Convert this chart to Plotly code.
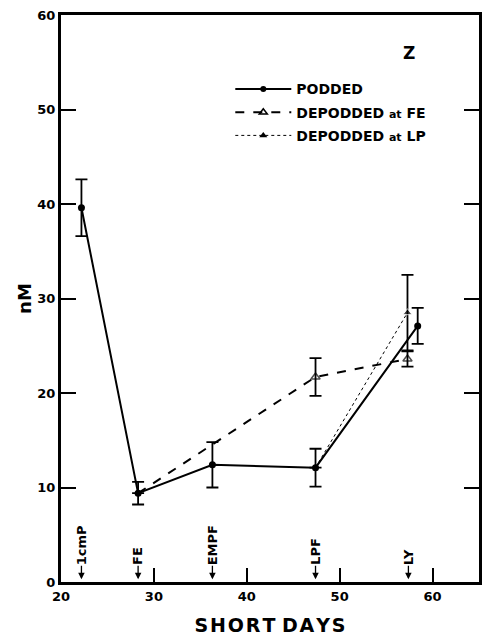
import plotly.graph_objects as go

# ---- data ----
podded_x = [22.2, 28.3, 36.3, 47.4, 58.4]
podded_y = [39.6, 9.4, 12.4, 12.1, 27.1]
podded_err = [3.0, 1.2, 2.4, 2.0, 1.9]

fe_x = [28.3, 47.4, 57.3]
fe_y = [9.4, 21.7, 23.6]
fe_err = [0.0, 2.0, 0.8]

lp_x = [47.4, 57.3]
lp_y = [12.1, 28.5]
lp_err = [0.0, 4.0]

stage_x = [22.2, 28.3, 36.3, 47.4, 57.4]
stage_labels = ["1cmP", "FE", "EMPF", "LPF", "LY"]

x_ticks = [20, 30, 40, 50, 60]
y_ticks = [0, 10, 20, 30, 40, 50, 60]

FONT = "DejaVu Sans"
HS = "\u200a"  # hair space for letter spacing
fig = go.Figure()

err_style = dict(type="data", visible=True, color="black", thickness=1.8, width=6)

fig.add_trace(go.Scatter(
    x=podded_x, y=podded_y, mode="lines+markers", showlegend=False,
    line=dict(color="black", width=2),
    marker=dict(symbol="circle", size=7, color="black"),
    error_y=dict(array=podded_err, **err_style),
))
fig.add_trace(go.Scatter(
    x=fe_x, y=fe_y, mode="lines+markers", showlegend=False,
    line=dict(color="black", width=2, dash="dash"),
    marker=dict(symbol="triangle-up-open", size=[0, 8, 8], color="black",
                line=dict(width=1.5, color="black")),
    error_y=dict(array=fe_err, **err_style),
))
fig.add_trace(go.Scatter(
    x=lp_x, y=lp_y, mode="lines+markers", showlegend=False,
    line=dict(color="black", width=1, dash="dot"),
    marker=dict(symbol="triangle-up", size=[0, 8], color="black"),
    error_y=dict(array=lp_err, **err_style),
))

# legend-only dummy traces
fig.add_trace(go.Scatter(x=[None], y=[None], mode="lines+markers", name="PODDED",
                         legendgroup="a",
                         line=dict(color="black", width=2),
                         marker=dict(symbol="circle", size=6, color="black")))
fig.add_trace(go.Scatter(x=[None], y=[None], mode="lines+markers",
                         legendgroup="b",
                         name="DEPODDED <span style='font-size:11px'>at</span> FE",
                         line=dict(color="black", width=2, dash="dash"),
                         marker=dict(symbol="triangle-up-open", size=7, color="black",
                                     line=dict(width=1.5, color="black"))))
fig.add_trace(go.Scatter(x=[None], y=[None], mode="lines+markers",
                         legendgroup="c",
                         name="DEPODDED <span style='font-size:11px'>at</span> LP",
                         line=dict(color="black", width=1, dash="dot"),
                         marker=dict(symbol="triangle-up", size=7, color="black")))

annotations = []
for sx, lab in zip(stage_x, stage_labels):
    annotations.append(dict(x=sx, y=0.3, xref="x", yref="y", text="", showarrow=True,
                            ax=0, ay=-15, arrowhead=2, arrowsize=1, arrowwidth=1.3,
                            arrowcolor="black"))
    annotations.append(dict(x=sx, y=1.6, xref="x", yref="y", text="<b>" + lab + "</b>",
                            showarrow=False, textangle=-90, xanchor="center",
                            yanchor="bottom", font=dict(family=FONT, size=13, color="black")))

annotations.append(dict(x=57.5, y=56.0, xref="x", yref="y", text="<b>Z</b>", showarrow=False,
                        font=dict(family=FONT, size=17, color="black")))

fig.update_layout(
    width=484, height=636,
    margin=dict(l=61, r=2, t=15, b=54),
    paper_bgcolor="white", plot_bgcolor="white",
    font=dict(family=FONT, color="black", size=13),
    showlegend=True,
    legend=dict(x=0.405, y=0.897, xanchor="left", yanchor="top", bgcolor="rgba(0,0,0,0)",
                itemwidth=56, traceorder="grouped", tracegroupgap=2,
                font=dict(family=FONT, size=14, color="black", weight="bold")),
    annotations=annotations,
)
fig.update_xaxes(
    range=[20, 65], tickvals=x_ticks, ticktext=[f"<b>{v}</b>" for v in x_ticks],
    ticks="inside", ticklen=14, tickwidth=2, tickcolor="black",
    showline=True, linewidth=3, linecolor="black", mirror=True,
    showgrid=False, zeroline=False,
    tickfont=dict(family=FONT, size=13),
    title=dict(text="<b>" + HS.join("SHORT") + " " + HS.join("DAYS") + "</b>",
               font=dict(family=FONT, size=19), standoff=17),
)
fig.update_yaxes(
    range=[0, 60], tickvals=y_ticks, ticktext=[f"<b>{v}</b>" for v in y_ticks],
    ticks="inside", ticklen=15, tickwidth=2, tickcolor="black",
    showline=True, linewidth=3, linecolor="black", mirror="ticks",
    showgrid=False, zeroline=False,
    tickfont=dict(family=FONT, size=13),
    title=dict(text="<b>nM</b>", font=dict(family=FONT, size=18), standoff=2),
)

fig.write_html("out.html")
